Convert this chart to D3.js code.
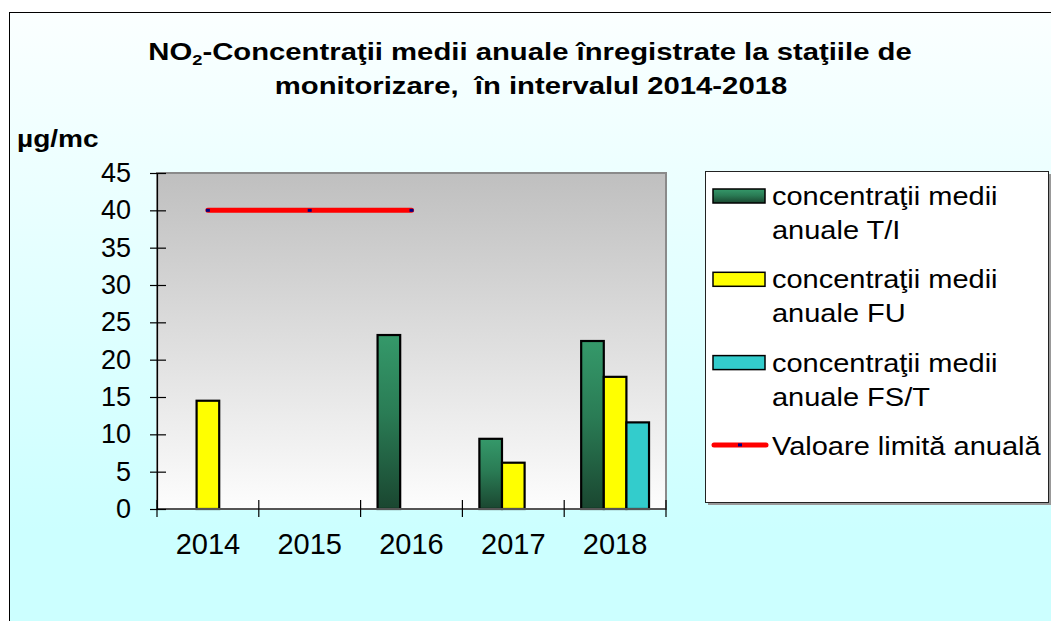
<!DOCTYPE html>
<html lang="ro">
<head>
<meta charset="utf-8">
<title>NO2 - Concentraţii medii anuale</title>
<script src="https://d3js.org/d3.v7.min.js"></script>
<style>
    body { margin: 0; background: #fff; }
    text { font-family: Arial, "Liberation Sans", sans-serif; fill: #000; white-space: pre; }
</style>
</head>
<body>
<div id="chart"></div>
<script>
// values
const years = ["2014", "2015", "2016", "2017", "2018"];
const seriesKeys = ["TI", "FU", "FST"];
const valTI = [null, null, 23.3, 9.4, 22.5];
const valFU = [14.5, null, null, 6.2, 17.7];
const valFST = [null, null, null, null, 11.6];
const limitValues = [40, 40, 40, null, null];
const yTicks = [0, 5, 10, 15, 20, 25, 30, 35, 40, 45];
const legendLines = [
    ["concentraţii medii", "anuale T/I"],
    ["concentraţii medii", "anuale FU"],
    ["concentraţii medii", "anuale FS/T"],
    ["Valoare limită anuală"]
];
const titleLine1 = ["NO", "2", "-Concentraţii medii anuale înregistrate la staţiile de"];
const titleLine2 = "monitorizare,  în intervalul 2014-2018";
const unitLabel = "µg/mc";

const W = 1051, H = 621;
const plot = {left: 157, top: 173, right: 666, bottom: 509};
const titleK = 1.22, legendK = 1.16; // text in the original is a bit wider than tall

const svg = d3.select("#chart").append("svg")
    .attr("width", W)
    .attr("height", H);

const defs = svg.append("defs");
const bgGrad = defs.append("linearGradient")
    .attr("id", "bgGrad")
    .attr("gradientUnits", "userSpaceOnUse")
    .attr("x1", 0).attr("y1", 12).attr("x2", 0).attr("y2", 530);
bgGrad.append("stop").attr("offset", 0).attr("stop-color", "#fbffff");
bgGrad.append("stop").attr("offset", 1).attr("stop-color", "#ccffff");

const plotGrad = defs.append("linearGradient")
    .attr("id", "plotGrad")
    .attr("x1", 0).attr("y1", 0).attr("x2", 0).attr("y2", 1);
plotGrad.append("stop").attr("offset", 0).attr("stop-color", "#bfbfbf");
plotGrad.append("stop").attr("offset", 1).attr("stop-color", "#fdfdfd");

const greenGrad = defs.append("linearGradient")
    .attr("id", "greenGrad")
    .attr("x1", 0).attr("y1", 0).attr("x2", 0).attr("y2", 1);
greenGrad.append("stop").attr("offset", 0).attr("stop-color", "#35996a");
greenGrad.append("stop").attr("offset", 0.45).attr("stop-color", "#2a7c55");
greenGrad.append("stop").attr("offset", 1).attr("stop-color", "#1a4630");

const fills = {TI: "url(#greenGrad)", FU: "#ffff00", FST: "#33cccc"};

// chart background + frame
svg.append("rect")
    .attr("x", 9.5).attr("y", 12.5)
    .attr("width", W).attr("height", H)
    .attr("fill", "url(#bgGrad)")
    .attr("stroke", "#000")
    .attr("stroke-width", 1);

// title
const title = svg.append("text")
    .attr("text-anchor", "middle")
    .attr("font-weight", "bold")
    .attr("font-size", 24)
    .attr("transform", `translate(530,60) scale(${titleK},1)`);
title.append("tspan").text(titleLine1[0]);
title.append("tspan").attr("font-size", 15).attr("dy", 5).text(titleLine1[1]);
title.append("tspan").attr("dy", -5).text(titleLine1[2]);

svg.append("text")
    .attr("text-anchor", "middle")
    .attr("font-weight", "bold")
    .attr("font-size", 24)
    .attr("transform", `translate(531,94) scale(${titleK},1)`)
    .text(titleLine2);

svg.append("text")
    .attr("font-weight", "bold")
    .attr("font-size", 24)
    .attr("transform", `translate(17,147) scale(1.17,1)`)
    .text(unitLabel);

// scales
const x0 = d3.scaleBand().domain(years).range([plot.left, plot.right]).padding(0);
const groupW = x0.bandwidth() * 2 / 3;
const x1 = d3.scaleBand().domain(seriesKeys).range([0, groupW]).padding(0);
const y = d3.scaleLinear().domain([0, 45]).range([plot.bottom, plot.top]);

// plot area
svg.append("rect")
    .attr("x", plot.left).attr("y", plot.top)
    .attr("width", plot.right - plot.left)
    .attr("height", plot.bottom - plot.top)
    .attr("fill", "url(#plotGrad)")
    .attr("stroke", "#8a8a8a")
    .attr("stroke-width", 2);

// bars
const rows = years.map((yr, i) => ({year: yr, TI: valTI[i], FU: valFU[i], FST: valFST[i]}));
const groups = svg.append("g").selectAll("g")
    .data(rows)
    .join("g")
    .attr("transform", d => `translate(${x0(d.year) + (x0.bandwidth() - groupW) / 2},0)`);

groups.selectAll("rect")
    .data(d => seriesKeys.map(k => ({key: k, value: d[k]})).filter(e => e.value != null))
    .join("rect")
    .attr("x", d => x1(d.key))
    .attr("y", d => y(d.value))
    .attr("width", x1.bandwidth())
    .attr("height", d => y(0) - y(d.value))
    .attr("fill", d => fills[d.key])
    .attr("stroke", "#000")
    .attr("stroke-width", 2.2);

// x axis
svg.append("line")
    .attr("x1", plot.left).attr("x2", plot.right)
    .attr("y1", y(0)).attr("y2", y(0))
    .attr("stroke", "#555")
    .attr("stroke-width", 2);

const bounds = years.map(d => x0(d)).concat([x0.range()[1]]);
svg.append("g").selectAll("line")
    .data(bounds)
    .join("line")
    .attr("x1", d => d).attr("x2", d => d)
    .attr("y1", y(0) - 9).attr("y2", y(0) + 8)
    .attr("stroke", "#000")
    .attr("stroke-width", 1.2);

svg.append("g").selectAll("text")
    .data(years)
    .join("text")
    .attr("x", d => x0(d) + x0.bandwidth() / 2)
    .attr("y", 554)
    .attr("text-anchor", "middle")
    .attr("font-size", 29)
    .text(d => d);

// y axis
const gY = svg.append("g")
    .attr("transform", `translate(${plot.left},0)`)
    .call(d3.axisLeft(y).tickValues(yTicks).tickSize(7).tickSizeOuter(0).tickFormat(d3.format("d")));
gY.select(".domain").attr("stroke", "#000").attr("stroke-width", 1.2);
gY.selectAll(".tick line").attr("x1", 9).attr("stroke", "#000").attr("stroke-width", 1.2);
gY.selectAll(".tick text")
    .attr("font-size", 27)
    .attr("font-family", null)
    .attr("x", -26);

// limit line
const limitPts = years.map((yr, i) => ({year: yr, value: limitValues[i]})).filter(d => d.value != null);
const line = d3.line()
    .x(d => x0(d.year) + x0.bandwidth() / 2)
    .y(d => y(d.value));
svg.append("path")
    .datum(limitPts)
    .attr("d", line)
    .attr("fill", "none")
    .attr("stroke", "#ff0000")
    .attr("stroke-width", 5)
    .attr("stroke-linecap", "round");
svg.append("g").selectAll("rect")
    .data(limitPts)
    .join("rect")
    .attr("x", d => x0(d.year) + x0.bandwidth() / 2 - 2)
    .attr("y", d => y(d.value) - 1.5)
    .attr("width", 4).attr("height", 3)
    .attr("fill", "#000080");

// legend
svg.append("rect")
    .attr("x", 708).attr("y", 174)
    .attr("width", 343).attr("height", 331)
    .attr("fill", "#999");
svg.append("rect")
    .attr("x", 705.5).attr("y", 171.5)
    .attr("width", 343).attr("height", 331)
    .attr("fill", "#fff")
    .attr("stroke", "#222")
    .attr("stroke-width", 1);

const legendFills = [fills.TI, fills.FU, fills.FST];
const item = svg.append("g").selectAll("g")
    .data(legendLines)
    .join("g")
    .attr("transform", (d, i) => `translate(713,${205 + i * 83.3})`);

item.filter((d, i) => i < 3).append("rect")
    .attr("x", 0).attr("y", -16)
    .attr("width", 52).attr("height", 14)
    .attr("fill", (d, i) => legendFills[i])
    .attr("stroke", "#000")
    .attr("stroke-width", 1.5);

const lastItem = item.filter((d, i) => i === 3);
lastItem.append("line")
    .attr("x1", 1).attr("x2", 53)
    .attr("y1", -10).attr("y2", -10)
    .attr("stroke", "#ff0000")
    .attr("stroke-width", 5)
    .attr("stroke-linecap", "round");
lastItem.append("rect")
    .attr("x", 25).attr("y", -11.5)
    .attr("width", 4).attr("height", 3)
    .attr("fill", "#000080");

item.each(function(d) {
    const g = d3.select(this);
    d.forEach((txt, j) => {
        g.append("text")
            .attr("font-size", 25)
            .attr("transform", `translate(59,${j * 34}) scale(${legendK},1)`)
            .text(txt);
    });
});
</script>
</body>
</html>
